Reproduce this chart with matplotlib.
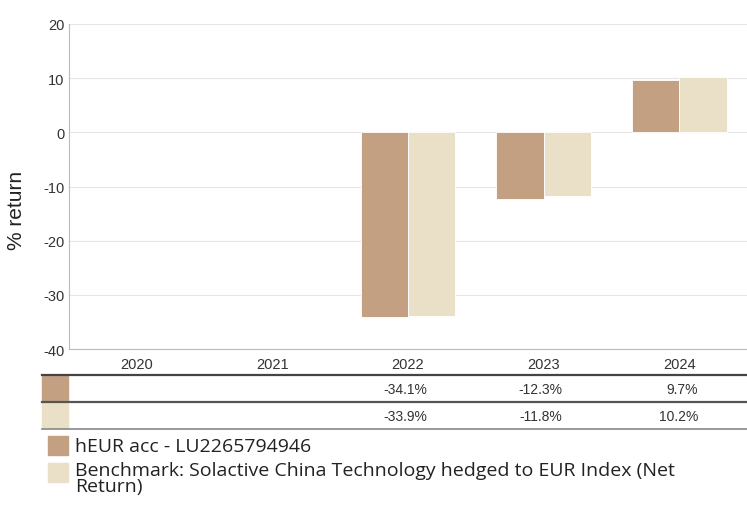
import numpy as np
import matplotlib.pyplot as plt
from matplotlib.patches import Rectangle
from matplotlib.lines import Line2D
import matplotlib.transforms as mtransforms

plt.rcParams['axes.unicode_minus'] = False

years = ['2020', '2021', '2022', '2023', '2024']
fund = [np.nan, np.nan, -34.1, -12.3, 9.7]
bench = [np.nan, np.nan, -33.9, -11.8, 10.2]
fund_lbl = ['', '', '-34.1%', '-12.3%', '9.7%']
bench_lbl = ['', '', '-33.9%', '-11.8%', '10.2%']
legend_names = ['hEUR acc - LU2265794946',
                'Benchmark: Solactive China Technology hedged to EUR Index (Net\nReturn)']

c_fund = '#c4a082'
c_bench = '#eae0c8'

W, H = 747, 506
fig = plt.figure(figsize=(W / 100, H / 100), dpi=100)

def fy(py):
    return 1 - py / H

def fx(px):
    return px / W

ax = fig.add_axes([fx(69), fy(350), fx(747) - fx(69), fy(25) - fy(350)])

x = np.arange(len(years))
w = 0.35
ax.bar(x - w / 2, fund, w, color=c_fund, edgecolor='white', linewidth=0.6, zorder=3)
ax.bar(x + w / 2, bench, w, color=c_bench, edgecolor='white', linewidth=0.6, zorder=3)

ax.set_xlim(-0.5, 4.5)
ax.set_ylim(-40, 20)
ax.set_yticks(range(-40, 21, 10))
ax.set_xticks(x)
ax.set_xticklabels(years)
ax.grid(axis='y', color='#e6e6e6', linewidth=0.8, zorder=0)
for s in ['top', 'right']:
    ax.spines[s].set_visible(False)
ax.spines['left'].set_color('#bbbbbb')
ax.spines['bottom'].set_color('#bbbbbb')
ax.tick_params(length=0, labelsize=10.5, colors='#333333', labelfontfamily='Liberation Sans')
ax.tick_params(axis='x', pad=6)
ax.set_ylabel('% return', fontsize=15, family='Liberation Sans', color='#222222')
ax.yaxis.set_label_coords(-0.063, 0.43)

# table under the chart
for py, lw, col in [(376, 1.6, '#444444'), (403, 1.6, '#555555'), (430, 1.2, '#888888')]:
    fig.add_artist(Line2D([fx(42), 1], [fy(py), fy(py)], color=col, linewidth=lw))
fig.add_artist(Rectangle((fx(42), fy(402)), fx(68) - fx(42), fy(377) - fy(402),
                         transform=fig.transFigure, color=c_fund))
fig.add_artist(Rectangle((fx(42), fy(429)), fx(68) - fx(42), fy(404) - fy(429),
                         transform=fig.transFigure, color=c_bench))
tr = mtransforms.blended_transform_factory(ax.transData, fig.transFigure)
for i in range(len(years)):
    fig.text(x[i] + 0.14, fy(390), fund_lbl[i], transform=tr, ha='right', va='center',
             fontsize=10, family='Liberation Sans', color='#333333')
    fig.text(x[i] + 0.14, fy(417), bench_lbl[i], transform=tr, ha='right', va='center',
             fontsize=10, family='Liberation Sans', color='#333333')

# legend
fig.add_artist(Rectangle((fx(48), fy(456)), fx(68) - fx(48), fy(437) - fy(456),
                         transform=fig.transFigure, color=c_fund))
fig.add_artist(Rectangle((fx(48), fy(483)), fx(68) - fx(48), fy(464) - fy(483),
                         transform=fig.transFigure, color=c_bench))
fig.text(fx(75), fy(447), legend_names[0], ha='left', va='center', fontsize=14,
         family='Open Sans', color='#222222')
fig.text(fx(75), fy(462), legend_names[1], ha='left', va='top', fontsize=14,
         family='Open Sans', color='#222222', linespacing=0.88)

fig.savefig('out.png', dpi=100)
